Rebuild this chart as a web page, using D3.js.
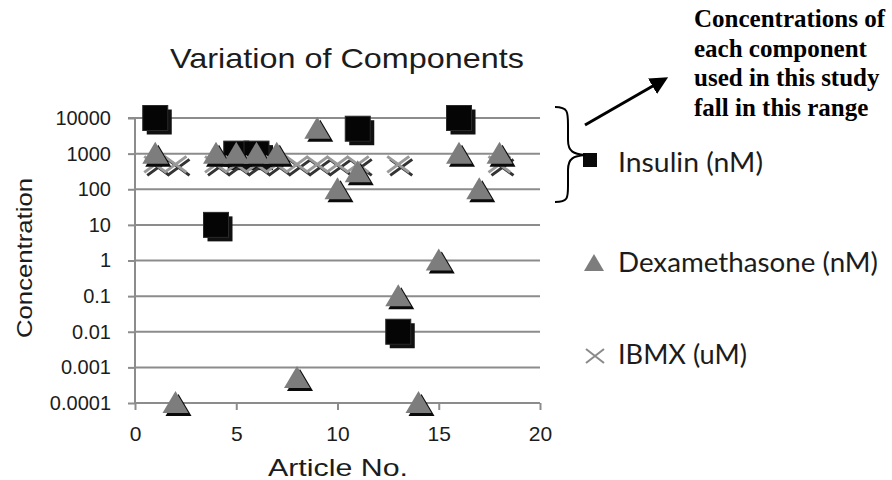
<!DOCTYPE html>
<html><head><meta charset="utf-8">
<script src="https://cdn.jsdelivr.net/npm/d3@7"></script>
<style>body{margin:0;background:#fff}svg{display:block}</style>
</head><body><svg id="chart" width="892" height="480"></svg>
<script>
// Axis ticks
const articleTicks = [0, 5, 10, 15, 20];
const concTicks = [0.0001, 0.001, 0.01, 0.1, 1, 10, 100, 1000, 10000];
const concTickLabels = ["0.0001", "0.001", "0.01", "0.1", "1", "10", "100", "1000", "10000"];

// Insulin (nM)
const insulinArticle = [1, 4, 5, 6, 11, 13, 16];
const insulinConc = [10000, 10, 1000, 1000, 5000, 0.01, 10000];

// Dexamethasone (nM)
const dexArticle = [1, 2, 4, 5, 6, 7, 8, 9, 10, 11, 13, 14, 15, 16, 17, 18];
const dexConc = [1000, 0.0001, 1000, 1000, 1000, 1000, 0.0005, 5000, 100, 300, 0.1, 0.0001, 1, 1000, 100, 1000];

// IBMX (uM)
const ibmxArticle = [1, 2, 4, 5, 6, 7, 8, 9, 10, 11, 13, 18];
const ibmxConc = [500, 500, 500, 500, 500, 500, 500, 500, 500, 500, 500, 500];

const noteLines = ["Concentrations of", "each component", "used in this study", "fall in this range"];

const svg = d3.select("#chart");
const x = d3.scaleLinear().domain([0, 20]).range([135, 540]);
const y = d3.scaleLog().domain([0.0001, 10000]).range([403, 118]);

const axisColor = "#8c8c8c";
const textColor = "#1c1c1c";
const labelFont = "'Liberation Sans', Arial, sans-serif";
const legendFont = "Lato, 'Open Sans', sans-serif";

// Title
svg.append("text").attr("x", 347).attr("y", 68).attr("text-anchor", "middle")
  .attr("font-family", labelFont).attr("font-size", 28).attr("fill", textColor)
  .attr("textLength", 354).attr("lengthAdjust", "spacingAndGlyphs")
  .text("Variation of Components");

// Horizontal gridlines
svg.append("g").selectAll("line").data(concTicks.slice(1)).join("line")
  .attr("x1", x(0)).attr("x2", x(20))
  .attr("y1", d => y(d)).attr("y2", d => y(d))
  .attr("stroke", axisColor).attr("stroke-width", 2);

// Y axis
const yAxis = d3.axisLeft(y).tickValues(concTicks)
  .tickFormat((d, i) => concTickLabels[i]).tickSize(7).tickPadding(17);
const gy = svg.append("g").attr("transform", `translate(${x(0)},0)`).call(yAxis);
gy.select(".domain").attr("stroke", axisColor).attr("stroke-width", 2)
  .attr("d", `M-7,${y(10000)}H0V${y(0.0001)}`);
gy.selectAll(".tick line").attr("stroke", axisColor).attr("stroke-width", 2);
gy.selectAll(".tick text").attr("font-family", labelFont).attr("font-size", 20)
  .attr("fill", textColor);

// X axis
const xAxis = d3.axisBottom(x).tickValues(articleTicks).tickSize(7).tickPadding(16);
const gx = svg.append("g").attr("transform", `translate(0,${y(0.0001)})`).call(xAxis);
gx.select(".domain").attr("stroke", axisColor).attr("stroke-width", 2)
  .attr("d", `M${x(0)},0H${x(20)}`);
gx.selectAll(".tick line").attr("stroke", axisColor).attr("stroke-width", 2);
gx.selectAll(".tick text").attr("font-family", labelFont).attr("font-size", 21)
  .attr("fill", textColor);

// Axis titles
svg.append("text").attr("x", 338).attr("y", 476).attr("text-anchor", "middle")
  .attr("font-family", labelFont).attr("font-size", 24).attr("fill", textColor)
  .attr("textLength", 140).attr("lengthAdjust", "spacingAndGlyphs")
  .text("Article No.");
svg.append("text").attr("transform", "translate(32,258) rotate(-90)")
  .attr("text-anchor", "middle").attr("font-family", labelFont)
  .attr("font-size", 22).attr("fill", textColor)
  .attr("textLength", 160).attr("lengthAdjust", "spacingAndGlyphs")
  .text("Concentration");

// Marker shapes
const sq = 25;
const triPath = "M0,-12L13,10L-13,10Z";
const crossPath = "M-11,-8L11,8M-11,8L11,-8";

const insulin = insulinArticle.map((a, i) => ({a, v: insulinConc[i]}));
const dex = dexArticle.map((a, i) => ({a, v: dexConc[i]}));
const ibmx = ibmxArticle.map((a, i) => ({a, v: ibmxConc[i]}));

const marks = svg.append("g");

// Insulin squares with drop shadow
const gIns = marks.append("g");
insulin.forEach(d => {
  const cx = x(d.a), cy = y(d.v);
  gIns.append("rect").attr("x", cx - sq / 2 + 4).attr("y", cy - sq / 2 + 4)
    .attr("width", sq).attr("height", sq).attr("fill", "#111");
  gIns.append("rect").attr("x", cx - sq / 2).attr("y", cy - sq / 2)
    .attr("width", sq).attr("height", sq).attr("fill", "#050505")
    .attr("stroke", "#2a2a2a").attr("stroke-width", 1);
});

// IBMX crosses with shadow
const gIb = marks.append("g");
ibmx.forEach(d => {
  const cx = x(d.a), cy = y(d.v);
  gIb.append("path").attr("d", crossPath)
    .attr("transform", `translate(${cx + 3},${cy + 3})`)
    .attr("stroke", "#333").attr("stroke-width", 3).attr("fill", "none");
  gIb.append("path").attr("d", crossPath)
    .attr("transform", `translate(${cx},${cy})`)
    .attr("stroke", "#9a9a9a").attr("stroke-width", 3).attr("fill", "none");
});

// Dexamethasone triangles with shadow
const gDex = marks.append("g");
dex.forEach(d => {
  const cx = x(d.a), cy = y(d.v);
  gDex.append("path").attr("d", triPath)
    .attr("transform", `translate(${cx + 3},${cy + 3})`).attr("fill", "#0a0a0a");
  gDex.append("path").attr("d", triPath)
    .attr("transform", `translate(${cx},${cy})`).attr("fill", "#7d7d7d");
});

// Legend
svg.append("rect").attr("x", 583).attr("y", 153).attr("width", 14).attr("height", 14)
  .attr("fill", "#0a0a0a");
svg.append("path").attr("d", "M0,-9L10,8L-10,8Z").attr("transform", "translate(594,263)")
  .attr("fill", "#7d7d7d");
svg.append("path").attr("d", "M-9,-7L9,7M-9,7L9,-7").attr("transform", "translate(595,356)")
  .attr("stroke", "#8a8a8a").attr("stroke-width", 2);
const legendItems = [["Insulin (nM)", 163, 145], ["Dexamethasone (nM)", 263, 260], ["IBMX (uM)", 355, 129]];
svg.append("g").selectAll("text").data(legendItems).join("text")
  .attr("x", 618).attr("y", d => d[1]).attr("dy", "0.35em")
  .attr("font-family", legendFont).attr("font-size", 27).attr("fill", textColor)
  .attr("textLength", d => d[2]).attr("lengthAdjust", "spacingAndGlyphs")
  .text(d => d[0]);

// Brace marking the range used in this study
svg.append("path")
  .attr("d", "M555,107 C568,107 568,112 568,125 L568,140 C568,152 574,154 585,155 C574,156 568,158 568,170 L568,186 C568,198 568,202 555,202")
  .attr("fill", "none").attr("stroke", "#000").attr("stroke-width", 2);

// Arrow
svg.append("defs").append("marker").attr("id", "arrowhead")
  .attr("viewBox", "0 0 10 10").attr("refX", 8).attr("refY", 5)
  .attr("markerWidth", 6).attr("markerHeight", 6).attr("orient", "auto")
  .append("path").attr("d", "M0,0L10,5L0,10Z").attr("fill", "#000");
svg.append("line").attr("x1", 585).attr("y1", 125).attr("x2", 665).attr("y2", 79)
  .attr("stroke", "#000").attr("stroke-width", 3).attr("marker-end", "url(#arrowhead)");

// Note text
svg.append("g").selectAll("text").data(noteLines).join("text")
  .attr("x", 694).attr("y", (d, i) => 27 + i * 29.5)
  .attr("font-family", "'Liberation Serif', 'Times New Roman', serif")
  .attr("font-weight", "bold").attr("font-size", 25).attr("fill", "#000")
  .text(d => d);
</script></body></html>
